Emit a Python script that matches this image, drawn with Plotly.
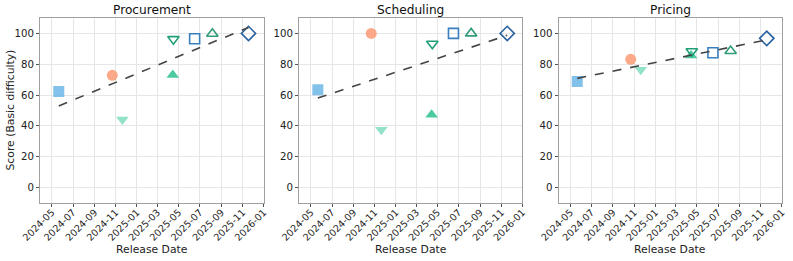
import numpy as np
import pandas as pd
import plotly.graph_objects as go
from plotly.subplots import make_subplots

# ---- data ----
panels = ["Procurement", "Scheduling", "Pricing"]
release_dates = ["2024-05-21", "2024-10-22", "2024-11-20", "2025-04-14",
                 "2025-04-16", "2025-06-16", "2025-08-06", "2025-11-18"]
marker_symbols = ["square", "circle", "triangle-down", "triangle-up",
                  "triangle-down-open", "square-open", "triangle-up-open", "diamond-open"]
marker_colors = ["#6cb6e6", "#fc9a74", "#7fdcc0", "#2ec28f",
                 "#1f9e78", "#3a80bf", "#2f9c7a", "#2a62a0"]
marker_sizes = [11, 11, 11, 11, 10, 10, 10, 11]
procurement_scores = [62.3, 72.8, 44.2, 73.0, 96.3, 96.5, 99.8, 100.0]
scheduling_scores = [63.5, 100.0, 37.5, 47.2, 93.3, 100.0, 100.0, 100.0]
pricing_scores = [68.8, 83.2, 76.5, 85.6, 88.4, 87.5, 88.6, 96.8]
y_ticks = [0, 20, 40, 60, 80, 100]
x_title = "Release Date"
y_title = "Score (Basic difficulty)"

scores = [procurement_scores, scheduling_scores, pricing_scores]

W, H = 793, 261
ml, mr, mt, mb = 40, 11.3, 18, 58
pw = W - ml - mr
domains = [[0, 223.7 / pw], [259 / pw, 482.3 / pw], [518.3 / pw, 1.0]]

fig = make_subplots(rows=1, cols=3, subplot_titles=panels)

dates = pd.to_datetime(release_dates)
tnum = (dates - dates[0]).days.values.astype(float)

for c, sc in enumerate(scores, start=1):
    for i in range(len(release_dates)):
        filled = not marker_symbols[i].endswith("open")
        fig.add_trace(go.Scatter(
            x=[release_dates[i]], y=[sc[i]], mode="markers",
            marker=dict(symbol=marker_symbols[i], size=marker_sizes[i],
                        color=marker_colors[i],
                        opacity=0.85 if filled else 1.0,
                        line=dict(color=marker_colors[i], width=1.6 if not filled else 0)),
            showlegend=False), row=1, col=c)
    # linear trend
    k, b = np.polyfit(tnum, np.array(sc, dtype=float), 1)
    xs = [release_dates[0], release_dates[-1]]
    ys = [b + k * tnum[0], b + k * tnum[-1]]
    fig.add_trace(go.Scatter(x=xs, y=ys, mode="lines",
                             line=dict(color="#444444", width=1.6, dash="dash"),
                             showlegend=False), row=1, col=c)

axis_common = dict(showline=True, linecolor="#a0a0a0", linewidth=1, mirror=True,
                   showgrid=True, gridcolor="#e6e6e6", gridwidth=1,
                   ticks="outside", ticklen=3, tickcolor="#555555",
                   zeroline=False, automargin=False)

for c in range(1, 4):
    xa = "xaxis" if c == 1 else f"xaxis{c}"
    ya = "yaxis" if c == 1 else f"yaxis{c}"
    fig.layout[xa].update(domain=domains[c - 1], type="date",
                          range=["2024-03-28", "2026-01-01"],
                          tick0="2024-05-01", dtick="M2", tickformat="%Y-%m",
                          tickangle=-45, ticklabelstandoff=-4,
                          tickfont=dict(size=9.6, color="#222222", family="DejaVu Sans"),
                          **axis_common)
    fig.layout[ya].update(range=[-10, 110], tickvals=y_ticks,
                          tickfont=dict(size=10.2, color="#222222", family="DejaVu Sans"),
                          **axis_common)

for i, ann in enumerate(fig.layout.annotations):
    d = domains[i]
    ann.update(x=(d[0] + d[1]) / 2, font=dict(size=12.2, color="#111111", family="DejaVu Sans"),
               yshift=-1)

title_font = dict(size=10.8, color="#222222", family="DejaVu Sans")
for d in domains:
    fig.add_annotation(text=x_title, xref="paper", yref="paper",
                       x=(d[0] + d[1]) / 2, y=0, xanchor="center", yanchor="middle",
                       yshift=-46, showarrow=False, font=title_font)
fig.add_annotation(text=y_title, xref="paper", yref="paper", x=0, y=0.5,
                   xanchor="center", yanchor="middle", xshift=-30, textangle=-90,
                   showarrow=False, font=title_font)

fig.update_layout(width=W, height=H, margin=dict(l=ml, r=mr, t=mt, b=mb, autoexpand=False),
                  plot_bgcolor="white", paper_bgcolor="white",
                  font=dict(family="DejaVu Sans"))

fig.write_html("out.html", config={"displayModeBar": False},
               post_script="document.body.style.margin='0';")
